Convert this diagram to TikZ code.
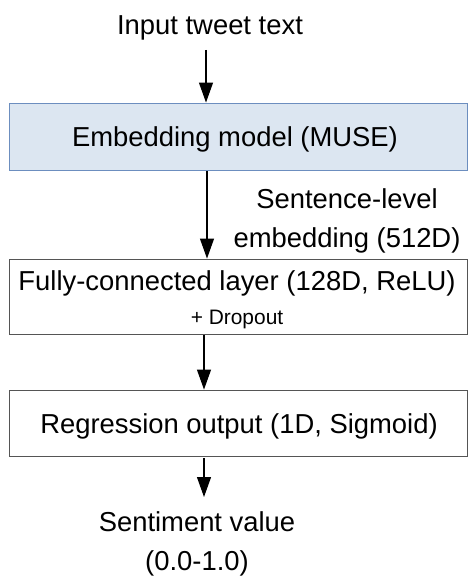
\documentclass[tikz,border=0pt]{standalone}
\usepackage{fontspec}
\setmainfont{Liberation Sans}
\usetikzlibrary{arrows.meta}
\definecolor{embfill}{HTML}{DCE6F1}
\definecolor{embdraw}{HTML}{6C8EBF}
\definecolor{boxdraw}{HTML}{555555}
\tikzset{
  lbl/.style={font=\fontsize{27.5}{39}\selectfont, align=center, inner sep=0pt, anchor=base},
  small/.style={font=\fontsize{21}{26}\selectfont, inner sep=0pt, anchor=base},
  boxnode/.style={draw=boxdraw, line width=0.9bp, minimum width=458bp, inner sep=0pt},
  flow/.style={-{Triangle[width=14bp,length=20bp]}, line width=1.2bp, black},
}
\begin{document}
\begin{tikzpicture}[x=1bp,y=-1bp]
\useasboundingbox (0,0) rectangle (468,579);
\node[boxnode, draw=embdraw, fill=embfill, minimum height=67bp] (emb) at (238,136.5) {};
\node[boxnode, minimum height=75bp] (fc) at (238,296.5) {};
\node[boxnode, minimum height=66bp] (reg) at (238,423) {};
\node[lbl] (in) at (210,35) {Input tweet text};
\node[lbl] (embt) at (235,147) {Embedding model (MUSE)};
\node[lbl] (fct) at (237,290) {Fully-connected layer (128D, ReLU)};
\node[small] (drop) at (237,324) {+ Dropout};
\node[lbl] (regt) at (239,433) {Regression output (1D, Sigmoid)};
\node[lbl] (emblbl) at (347,247) {Sentence-level\\embedding (512D)};
\node[lbl] (out) at (197,570) {Sentiment value\\(0.0-1.0)};
\coordinate (a1s) at (206,50);
\coordinate (a2s) at (207,171);
\coordinate (a3s) at (204,335);
\coordinate (a4s) at (204,458);
\coordinate (a4e) at (204,497);
\draw[flow] (a1s) -- (a1s |- emb.north);
\draw[flow] (a2s) -- (a2s |- fc.north);
\draw[flow] (a3s) -- (a3s |- reg.north);
\draw[flow] (a4s) -- (a4e);
\end{tikzpicture}
\end{document}
